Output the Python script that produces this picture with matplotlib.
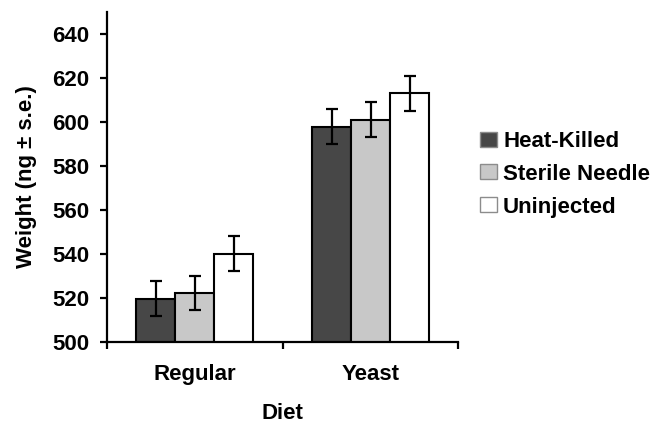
import numpy as np
import matplotlib.pyplot as plt

plt.rcParams['font.family'] = ['Liberation Sans', 'DejaVu Sans']
plt.rcParams['font.weight'] = 'bold'

diets = ['Regular', 'Yeast']
treatments = ['Heat-Killed', 'Sterile Needle', 'Uninjected']
weights = {
    'Heat-Killed': [519.7, 597.9],
    'Sterile Needle': [522.2, 601.1],
    'Uninjected': [540.1, 613.0],
}
errors = {
    'Heat-Killed': [7.8, 7.9],
    'Sterile Needle': [7.8, 7.9],
    'Uninjected': [8.0, 7.9],
}
colors = ['#474747', '#c8c8c8', '#ffffff']

fig = plt.figure(figsize=(6.66, 4.25), dpi=100)
ax = fig.add_axes([0.1607, 0.1953, 0.5276, 0.7765])

x = np.arange(len(diets)) + 0.5
width = 0.222
for i, t in enumerate(treatments):
    ax.bar(x + (i - 1) * width, weights[t], width, bottom=0, color=colors[i],
           edgecolor='black', linewidth=1.5, label=t, zorder=2)
    ax.errorbar(x + (i - 1) * width, weights[t], yerr=errors[t], fmt='none',
                ecolor='black', elinewidth=1.6, capsize=4.5, capthick=1.6, zorder=3)

ax.set_xlim(0, 2)
ax.set_ylim(500, 650)
ax.set_yticks(np.arange(500, 641, 20))
ax.set_xticks([0, 1, 2])
ax.set_xticklabels([])
ax.set_xticks(x, minor=True)
ax.set_xticklabels(diets, minor=True, fontsize=16, fontweight='bold')
ax.tick_params(axis='x', which='minor', length=0, pad=16)
ax.tick_params(axis='x', which='major', length=5, width=1.6, direction='out')
ax.tick_params(axis='y', length=5, width=1.6, direction='out', labelsize=16, pad=8)
for lab in ax.get_yticklabels():
    lab.set_fontweight('bold')

ax.spines['top'].set_visible(False)
ax.spines['right'].set_visible(False)
ax.spines['left'].set_linewidth(1.6)
ax.spines['bottom'].set_linewidth(1.6)

ax.set_ylabel('Weight (ng ± s.e.)', fontsize=16, fontweight='bold', labelpad=11)
ax.set_xlabel('Diet', fontsize=16, fontweight='bold', labelpad=13)

leg = fig.legend(loc='upper left', bbox_to_anchor=(0.7207, 0.6918), frameon=False,
                 borderpad=0, borderaxespad=0, handlelength=0.77, handleheight=0.66,
                 handletextpad=0.27, labelspacing=0.53,
                 prop={'weight': 'bold', 'size': 16})
for h in leg.legend_handles:
    h.set_edgecolor('#8c8c8c')
    h.set_linewidth(1.0)

fig.savefig('out.png', dpi=100)
